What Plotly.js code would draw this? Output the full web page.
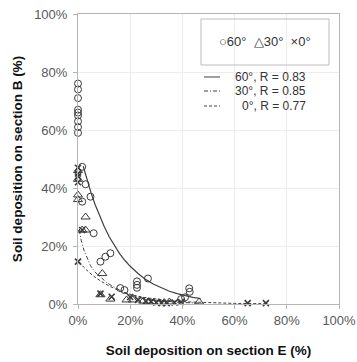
<!DOCTYPE html>
<html>
<head>
<meta charset="utf-8">
<script src="https://cdn.plot.ly/plotly-3.0.1.min.js"></script>
<style>html,body{margin:0;padding:0;background:#fff;}#chart{width:357px;height:362px;}</style>
</head>
<body>
<div id="chart"></div>
<script>
// ---- data (% values) ----
const tickValues = [0, 20, 40, 60, 80, 100];
const tickLabels = ['0%', '20%', '40%', '60%', '80%', '100%'];

// 60° (open circles)
const x60 = [0, 0, 0, 0, 0, 0, 0, 0, 0, 1.6, 2.9, 4.8, 1.6, 6.0, 8.6, 10.5, 12.4, 16.2, 17.8, 22.6, 22.6, 22.6, 26.8, 39.5, 41.0, 42.6, 42.8];
const y60 = [76, 74, 71, 67, 66, 65, 63, 61, 59, 47.3, 41.3, 37, 35.3, 24.4, 14.6, 16.3, 17.5, 5.5, 4.8, 7.8, 6.6, 5.6, 8.8, 1.7, 2.3, 5.4, 4.2];

// 30° (open triangles)
const x30 = [0, 0, 0, 0, 2.9, 1.6, 2.9, 9.3, 8.6, 12.4, 18.6, 21.0, 25.0, 27.0, 29.0, 31.0, 33.0, 35.0, 46.4];
const y30 = [46, 43, 37.6, 36, 30, 25.5, 25.5, 10.5, 3.2, 1.7, 1.4, 1.4, 1.0, 0.7, 0.5, 0.5, 0.5, 0.7, 0.7];

// 0° (crosses)
const x0 = [0, 0, 0, 0, 1.6, 0, 8.6, 12.9, 20.0, 23.0, 26.0, 28.0, 30.0, 32.0, 34.0, 37.0, 39.5, 65.0, 72.0];
const y0 = [47, 45, 44, 42, 25.5, 14.6, 3.6, 2.5, 2.4, 1.4, 1.0, 0.8, 0.5, 0.3, 0.3, 0.5, 0.7, 0.3, 0.3];

// fitted curves
const fit60x = [2.0, 2.5, 3.5, 5.0, 6.5, 8.0, 10.0, 12.0, 14.0, 16.0, 18.0, 20.0, 23.0, 26.0, 29.0, 32.0, 35.0, 38.0, 41.0, 44.0, 47.0];
const fit60y = [47.5, 45.8, 42.7, 38.3, 34.4, 30.9, 26.8, 23.1, 20.0, 17.3, 15.0, 13.0, 10.5, 8.4, 6.8, 5.5, 4.4, 3.6, 2.9, 2.3, 1.9];
const fit30x = [0.5, 1.2, 2.3, 3.5, 4.8, 6.5, 8.6, 11.0, 13.7, 17.0, 20.5, 25.0, 30.0, 35.0, 40.0, 47.0];
const fit30y = [25.5, 22.0, 18.5, 15.6, 13.2, 11.0, 9.2, 7.4, 5.9, 4.3, 3.0, 1.9, 1.2, 0.8, 0.5, 0.3];
const fit0x = [0.5, 2.3, 4.5, 7.2, 10.0, 12.4, 16.3, 20.5, 25.0, 30.0, 35.0, 40.0, 50.0, 60.0, 72.0];
const fit0y = [14.5, 12.6, 10.7, 8.8, 7.2, 6.0, 4.4, 3.2, 2.3, 1.6, 1.1, 0.8, 0.4, 0.2, 0.1];

const markerLegend = '\u25CB60\u00B0  \u25B330\u00B0  \u00D70\u00B0';
const lineLabels = ['60\u00B0, R = 0.83', '30\u00B0, R = 0.85', '0\u00B0, R = 0.77'];

// ---- figure ----
const FONT = 'Liberation Sans, Arial, sans-serif';
const MK = '#3a3a3a';
const LN = '#404040';

const traces = [
  {x: fit60x, y: fit60y, mode: 'lines', line: {color: LN, width: 1.2}, hoverinfo: 'skip'},
  {x: fit30x, y: fit30y, mode: 'lines', line: {color: LN, width: 1, dash: '4px,2px,1px,2px'}, hoverinfo: 'skip'},
  {x: fit0x, y: fit0y, mode: 'lines', line: {color: LN, width: 1, dash: '3px,2px'}, hoverinfo: 'skip'},
  {x: x60, y: y60, mode: 'markers', cliponaxis: false,
   marker: {symbol: 'circle-open', size: 7, color: MK, line: {width: 1, color: MK}}},
  {x: x30, y: y30, mode: 'markers', cliponaxis: false,
   marker: {symbol: 'triangle-up-open', size: 8, color: MK, line: {width: 1, color: MK}}},
  {x: x0, y: y0, mode: 'markers', cliponaxis: false,
   marker: {symbol: 'x-thin-open', size: 6, color: MK, line: {width: 1.6, color: MK}}}
];

// pixel helpers for legend placement (plot area: x 78..339, y 14..304)
const PL = 78, PR = 339, PT = 14, PB = 304;
const PX = p => (p - PL) / (PR - PL);
const PY = p => (PB - p) / (PB - PT);

const annotations = [
  {xref: 'paper', yref: 'paper', x: PX(265), y: PY(42), xanchor: 'center', yanchor: 'middle',
   text: markerLegend, showarrow: false, font: {family: FONT, size: 13, color: '#333'}},
];
const rowsY = [77, 91, 106];
const textX = [233, 233, 240];
lineLabels.forEach((t, i) => annotations.push({
  xref: 'paper', yref: 'paper', x: PX(textX[i]), y: PY(rowsY[i]), xanchor: 'left', yanchor: 'middle',
  text: t, showarrow: false, font: {family: FONT, size: 12, color: '#333'}
}));
const dashes = ['solid', '4px,2px,1px,2px', '3px,2px'];
const shapes = [
  {type: 'rect', xref: 'paper', yref: 'paper', x0: PX(201), x1: PX(329), y0: PY(65), y1: PY(19),
   line: {color: '#bdbdbd', width: 1}, fillcolor: 'rgba(0,0,0,0)'}
];
rowsY.forEach((yy, i) => shapes.push({
  type: 'line', xref: 'paper', yref: 'paper', x0: PX(204), x1: PX(220), y0: PY(yy), y1: PY(yy),
  line: {color: LN, width: 1, dash: dashes[i]}
}));

const axisCommon = {
  range: [0, 100], tickmode: 'array', tickvals: tickValues, ticktext: tickLabels,
  showgrid: true, gridcolor: '#ededed', gridwidth: 1,
  showline: true, linecolor: '#b5b5b5', linewidth: 1, mirror: true,
  ticks: 'outside', ticklen: 4, tickcolor: '#b5b5b5',
  zeroline: false, fixedrange: true, ticklabeloverflow: 'allow',
  tickfont: {family: FONT, size: 13, color: '#595959'}
};

const layout = {
  width: 357, height: 362,
  margin: {l: PL, r: 357 - PR, t: PT, b: 362 - PB},
  paper_bgcolor: '#fff', plot_bgcolor: '#fff',
  showlegend: false,
  xaxis: Object.assign({}, axisCommon, {
    title: {text: 'Soil deposition on section E (%)', standoff: 18,
            font: {family: FONT, size: 13.5, color: '#111', weight: 'bold'}}
  }),
  yaxis: Object.assign({}, axisCommon, {
    ticklabelstandoff: 3,
    title: {text: 'Soil deposition on section B (%)', standoff: 8,
            font: {family: FONT, size: 13.5, color: '#111', weight: 'bold'}}
  }),
  annotations: annotations,
  shapes: shapes
};

Plotly.newPlot('chart', traces, layout, {displayModeBar: false, staticPlot: true});
</script>
</body>
</html>
